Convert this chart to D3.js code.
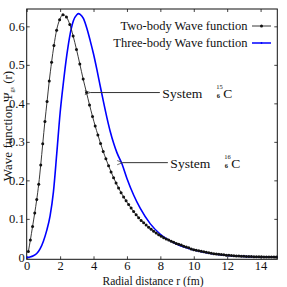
<!DOCTYPE html>
<html><head><meta charset="utf-8">
<script src="https://cdn.jsdelivr.net/npm/d3@7"></script>
<style>html,body{margin:0;padding:0;background:#fff;} svg text{font-family:"Liberation Serif","DejaVu Serif",serif;}</style>
</head><body><svg id="c" width="287" height="287"></svg>
<script>
// Two-body wave function (black dots)
const twoBodyR = [0.1,0.22,0.35,0.48,0.6,0.72,0.84,0.96,1.09,1.22,1.35,1.49,1.63,1.79,1.97,2.17,2.38,2.58,2.78,2.98,3.18,3.38,3.58,3.76,3.94,4.1,4.26,4.42,4.58,4.74,4.9,5.05,5.2,5.35,5.5,5.65,5.8,5.95,6.1,6.25,6.4,6.55,6.7,6.85,7.0,7.15,7.3,7.45,7.6,7.75,7.9,8.05,8.2,8.35,8.5,8.65,8.8,8.95,9.1,9.25,9.4,9.55,9.7,9.85,10.0,10.15,10.3,10.45,10.6,10.75,10.9,11.05,11.2,11.35,11.5,11.65,11.8,11.95,12.1,12.25,12.4,12.55,12.7,12.85,13.0,13.15,13.3,13.45,13.6,13.75,13.9,14.05,14.2,14.35,14.5,14.65,14.8,14.95];
const twoBodyV = [0.015,0.045,0.08,0.115,0.15,0.19,0.24,0.295,0.353,0.405,0.458,0.507,0.55,0.59,0.617,0.63,0.624,0.605,0.575,0.54,0.502,0.463,0.428,0.396,0.366,0.341,0.318,0.296,0.275,0.256,0.238,0.222,0.207,0.193,0.18,0.168,0.157,0.147,0.137,0.128,0.119,0.111,0.103,0.096,0.09,0.084,0.078,0.073,0.068,0.063,0.059,0.055,0.051,0.048,0.045,0.042,0.039,0.036,0.034,0.032,0.029,0.027,0.025,0.022,0.02,0.0185,0.017,0.0156,0.0143,0.013,0.0118,0.0107,0.0097,0.0088,0.008,0.0072,0.0065,0.0058,0.0052,0.0047,0.0042,0.0038,0.0034,0.003,0.0027,0.0024,0.0022,0.002,0.0018,0.0016,0.0014,0.0013,0.0012,0.0011,0.001,0.0009,0.0008,0.0007];
// Three-body wave function (blue line)
const threeBodyR = [0,0.2,0.4,0.6,0.8,1.0,1.2,1.4,1.6,1.8,2.0,2.2,2.4,2.6,2.8,3.0,3.1,3.2,3.4,3.6,3.8,4.0,4.2,4.4,4.6,4.8,5.0,5.2,5.4,5.7,6.0,6.4,6.8,7.4,8,9,10,11,12,13,14,15];
const threeBodyV = [0,0.001,0.004,0.01,0.022,0.042,0.07,0.108,0.17,0.27,0.375,0.455,0.525,0.58,0.615,0.63,0.633,0.631,0.62,0.595,0.563,0.528,0.488,0.445,0.403,0.363,0.327,0.297,0.272,0.243,0.205,0.162,0.127,0.087,0.06,0.034,0.019,0.01,0.005,0.0025,0.0012,0.0006];

const xTicks = [0,2,4,6,8,10,12,14];
const yTicks = [0,0.1,0.2,0.3,0.4,0.5,0.6];
const yTickLabels = ["0","0.1","0.2","0.3","0.4","0.5","0.6"];
const legendLabels = ["Two-body Wave function","Three-body Wave function"];
const annotMass = ["15","16"];
const annotTipR = [3.74,5.68];
const annotTipV = [0.428,0.246];
const annotTailR = [7.97,8.45];

const svg = d3.select("#c");
const L=26.7, R=277.3, T=9, B=259.3;
const x = d3.scaleLinear().domain([0,15]).range([L,R]);
const y = d3.scaleLinear().domain([-0.005,0.645]).range([B,T]);

const defs = svg.append("defs");
defs.append("marker").attr("id","arr").attr("viewBox","0 0 10 10").attr("refX",0).attr("refY",5)
  .attr("markerWidth",6).attr("markerHeight",6).attr("orient","auto-start-reverse").attr("markerUnits","userSpaceOnUse")
  .append("path").attr("d","M9,1.5 L0,5 L9,8.5").attr("fill","none").attr("stroke","#333").attr("stroke-width",1.2);

// axes
const ax = svg.append("g").attr("transform",`translate(0,${B})`)
  .call(d3.axisBottom(x).tickValues(xTicks).tickSizeInner(-3).tickSizeOuter(0).tickPadding(2));
const axTop = svg.append("g").attr("transform",`translate(0,${T})`)
  .call(d3.axisTop(x).tickValues(xTicks).tickSizeInner(-3).tickSizeOuter(0).tickFormat(""));
const ay = svg.append("g").attr("transform",`translate(${L},0)`)
  .call(d3.axisLeft(y).tickValues(yTicks).tickSizeInner(-3).tickSizeOuter(0).tickPadding(2).tickFormat((d,i)=>yTickLabels[i]));
const ayR = svg.append("g").attr("transform",`translate(${R},0)`)
  .call(d3.axisRight(y).tickValues(yTicks).tickSizeInner(-3).tickSizeOuter(0).tickFormat(""));
[ax,axTop,ay,ayR].forEach(g=>{g.select(".domain").remove(); g.selectAll("line").attr("stroke","#444");
  g.selectAll("text").attr("font-family","Liberation Serif").attr("font-size",12.5).attr("fill","#111");});
ax.selectAll("text").attr("dy","0.68em");

svg.append("rect").attr("x",L).attr("y",T).attr("width",R-L).attr("height",B-T)
  .attr("fill","none").attr("stroke","#111").attr("stroke-width",1);

// curves
const blueData = threeBodyR.map((r,i)=>[r,threeBodyV[i]]);
const blackData = twoBodyR.map((r,i)=>[r,twoBodyV[i]]);
const line = d3.line().x(d=>x(d[0])).y(d=>y(d[1])).curve(d3.curveMonotoneX);
svg.append("path").datum(blueData).attr("d",line).attr("fill","none").attr("stroke","#0000ff").attr("stroke-width",1.6);
svg.append("path").datum(blackData).attr("d",line).attr("fill","none").attr("stroke","#222").attr("stroke-width",0.9);
svg.append("g").selectAll("circle").data(blackData).join("circle")
  .attr("cx",d=>x(d[0])).attr("cy",d=>y(d[1])).attr("r",1.5).attr("fill","#111");

// axis titles
svg.append("text").attr("x",(L+R)/2+1).attr("y",285).attr("text-anchor","middle").attr("font-size",13)
  .attr("textLength",101).attr("lengthAdjust","spacingAndGlyphs").attr("fill","#111").text("Radial distance r (fm)");
const yl = svg.append("text").attr("transform","translate(11.5,126) rotate(-90)").attr("text-anchor","middle")
  .attr("font-size",13).attr("fill","#111");
yl.append("tspan").text("Wave function Ψ");
yl.append("tspan").attr("font-size",6).attr("dy",2).text("gs");
yl.append("tspan").attr("dy",-2).text(" (r)");

// legend
const lg = svg.append("g");
[0,1].forEach(i=>{
  const yy = 26 + i*17;
  lg.append("text").attr("x",247.5).attr("y",yy+4).attr("text-anchor","end").attr("font-size",12.5)
    .attr("fill","#111").text(legendLabels[i]);
  lg.append("line").attr("x1",252).attr("x2",271).attr("y1",yy).attr("y2",yy)
    .attr("stroke",i===0?"#222":"#0000ff").attr("stroke-width",i===0?0.9:1.5);
  lg.append("circle").attr("cx",261.5).attr("cy",yy).attr("r",i===0?1.5:0.9).attr("fill",i===0?"#111":"#0000ff");
});

// annotations
[0,1].forEach(i=>{
  const ty = y(annotTipV[i]);
  svg.append("line").attr("x1",x(annotTailR[i])).attr("y1",ty).attr("x2",x(annotTipR[i])+1).attr("y2",ty)
    .attr("stroke","#333").attr("stroke-width",1).attr("marker-end","url(#arr)");
  const tx = x(annotTailR[i])+2.5;
  const by = ty+5.5;
  const t = svg.append("text").attr("x",tx).attr("y",by).attr("font-size",13.5).attr("fill","#111");
  t.append("tspan").attr("textLength",40).attr("lengthAdjust","spacingAndGlyphs").text("System");
  svg.append("text").attr("x",tx+54).attr("y",by-9).attr("font-size",6.5).attr("fill","#111").text(annotMass[i]);
  svg.append("text").attr("x",tx+54.5).attr("y",by).attr("font-size",6.5).attr("font-weight","bold").attr("fill","#111").text("6");
  svg.append("text").attr("x",tx+61).attr("y",by).attr("font-size",13.5).attr("fill","#111").text("C");
});
</script></body></html>
